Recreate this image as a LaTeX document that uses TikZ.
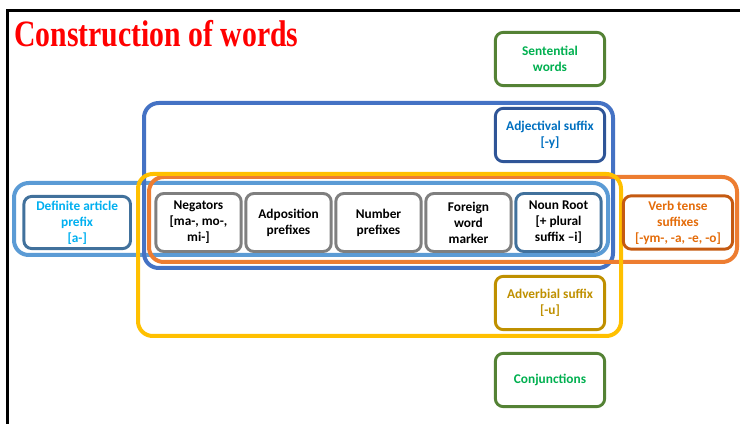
\documentclass[tikz,border=0pt]{standalone}
\usepackage{fontspec}
\newfontfamily\boxfont{Carlito}
\newfontfamily\titlefont{Liberation Serif}
\usepackage{graphicx}
\usetikzlibrary{calc}
\definecolor{grpblue}{HTML}{4472C4}
\definecolor{grplight}{HTML}{5B9BD5}
\definecolor{grporange}{HTML}{ED7D31}
\definecolor{grpyellow}{HTML}{FFC000}
\definecolor{greenline}{HTML}{548235}
\definecolor{greentext}{HTML}{00B050}
\definecolor{navyline}{HTML}{2F5597}
\definecolor{navytext}{HTML}{0070C0}
\definecolor{steelline}{HTML}{41719C}
\definecolor{cyantext}{HTML}{00B0F0}
\definecolor{goldline}{HTML}{BF9000}
\definecolor{rustline}{HTML}{C55A11}
\definecolor{rusttext}{HTML}{E46C0A}
\definecolor{grayline}{HTML}{7F7F7F}
\tikzset{
    block/.style = {draw=grayline, rectangle, rounded corners=6pt,
        line width=2.2pt, fill=white,
        minimum height=43.5pt,
        minimum width=64pt, align=center,
        font=\boxfont\bfseries\fontsize{10}{12}\selectfont},
    sideblock/.style = {block, minimum height=40pt, minimum width=82pt},
    group/.style = {draw, rounded corners=11pt, line width=3pt}
}
\begin{document}
\begin{tikzpicture}[x=0.75pt, y=-0.75pt, node distance=67.5pt]
        \useasboundingbox (0,0) rectangle (740,424);
        % page frame
        \draw [line width=2.2pt] (7.5,424) -- (7.5,10.5) -- (740,10.5);
        \node [anchor=base west, inner sep=0pt, text=red, font=\titlefont\bfseries\fontsize{22.3}{25}\selectfont,
               name=title] at (14,46.5) {\scalebox{1}[1.25]{Construction of words}};
        % groups
        \foreach \c/\a/\b in {grplight/{14,183}/{608,255}, grpblue/{144,103}/{613,268},
                              grporange/{149,177}/{737,262}, grpyellow/{138,174}/{621,336}}{
            \draw [group, \c] (\a) rectangle (\b);
        }
        % middle row
        \node [block, name=neg] at (198.5,222.5) {Negators\\\relax[ma-, mo-,\\mi-]};
        \node [block, right of=neg, name=adp] {Adposition\\prefixes};
        \node [block, right of=adp, name=num] {Number\\prefixes};
        \node [block, right of=num, name=frgn] {Foreign\\word\\marker};
        \node [block, right of=frgn, draw=steelline, name=noun] {Noun Root\\\relax[+ plural\\suffix –i]};
        \node [sideblock, left of=neg, node distance=91pt, draw=steelline, text=cyantext,
               minimum width=80pt, minimum height=39pt, name=defart] {Definite article\\prefix\\\relax[a-]};
        \node [sideblock, right of=noun, node distance=89.6pt, draw=rustline, text=rusttext,
               name=verb] {Verb tense\\suffixes\\\relax[-ym-, -a, -e, -o]};
        % right column
        \node [sideblock, draw=navyline, text=navytext, name=adj] at (550,135) {Adjectival suffix\\\relax[-y]};
        \node [sideblock, above of=adj, node distance=57pt, draw=greenline, text=greentext,
               name=sent] {Sentential\\words};
        \node [sideblock, draw=goldline, text=goldline, name=adv] at (550,303) {Adverbial suffix\\\relax[-u]};
        \node [sideblock, below of=adv, node distance=57.75pt, draw=greenline, text=greentext,
               name=conj] {Conjunctions};
\end{tikzpicture}
\end{document}
